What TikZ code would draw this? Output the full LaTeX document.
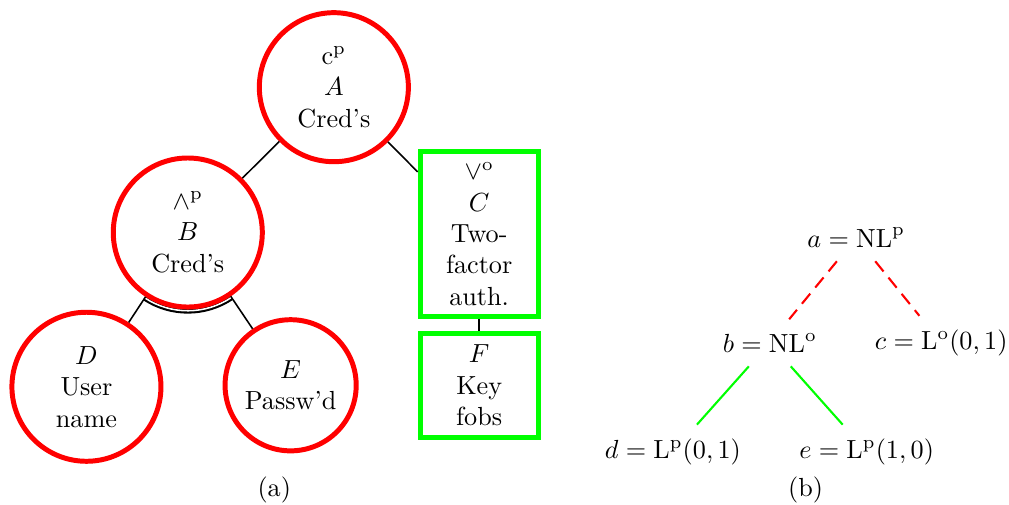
\documentclass[tikz,border=0pt]{standalone}
\usepackage{tikz}
\usetikzlibrary{shapes,arrows,positioning,calc,backgrounds}

\begin{document}
\begin{tikzpicture}[node distance=2cm, on grid, semithick,
        gate/.style={circle, draw=red, line width=1.9pt, minimum size=2cm, align=center},
        leaf/.style={rectangle, draw=green, line width=1.9pt, text width=1.35cm, inner ysep=4.3pt, align=center},
        val/.style={inner sep=5pt},
        nl/.style={red, thick, dash pattern=on 5pt off 3pt},
        lf/.style={green, thick}]
    \useasboundingbox (0,0) rectangle (13.54,6.77);

    \node [gate] (A) at (4.48,5.60) {$\mathrm{c}^\mathrm{p}$\\$A$\\Cred's};
    \node [gate, below left=1.95cm and 1.96cm of A] (B) {$\wedge^\mathrm{p}$\\$B$\\Cred's};
    \node [leaf, below right=1.97cm and 1.95cm of A] (C) {$\vee^\mathrm{o}$\\$C$\\Two-\\factor\\auth.};
    \node [gate, below left=2.07cm and 1.36cm of B] (D) {$D$\\User\\name};
    \node [gate, minimum size=1.76cm, below right=2.05cm and 1.38cm of B] (E) {$E$\\Passw'd};
    \node [leaf, below=2.03cm of C] (F) {$F$\\Key\\fobs};
    \node (suba) at (3.68,0.2) {(a)};

    \draw (A) -- (B);
    \draw (A) -- (C);
    \draw (B) -- (D);
    \draw (B) -- (E);
    \draw (C) -- (F);
    \begin{scope}[on background layer]
        \draw [thick, double, double distance=0.6pt] ($(B)+(236.7:1.05)$) arc (236.7:303.95:1.05);
    \end{scope}

    \node [val] (a) at (11.49,3.58) {$a=\mathrm{NL}^\mathrm{p}$};
    \node [val, below left=1.41cm and 1.16cm of a] (b) {$b=\mathrm{NL}^\mathrm{o}$};
    \node [val, below right=1.41cm and 1.14cm of a] (c) {$c=\mathrm{L}^\mathrm{o}(0,1)$};
    \node [val, below left=1.46cm and 1.30cm of b] (d) {$d=\mathrm{L}^\mathrm{p}(0,1)$};
    \node [val, below right=1.46cm and 1.30cm of b] (e) {$e=\mathrm{L}^\mathrm{p}(1,0)$};
    \node (subb) at (10.81,0.2) {(b)};

    \draw [nl] (a) -- (b);
    \draw [nl] (a) -- (c);
    \draw [lf] (b) -- (d);
    \draw [lf] (b) -- (e);
\end{tikzpicture}
\end{document}
